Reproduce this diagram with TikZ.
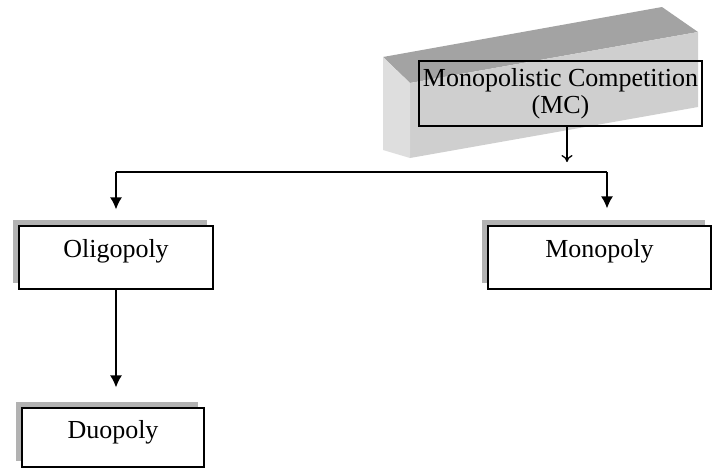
\documentclass[tikz,border=0pt]{standalone}
\usepackage{fontspec}
\setmainfont{Liberation Serif}
\usetikzlibrary{arrows.meta,positioning,calc,shadows}

\begin{document}
\begin{tikzpicture}[x=0.5pt,y=-0.5pt,line width=0.65pt,
  font=\fontsize{13}{13.5}\selectfont,
  market/.style={draw,fill=white,inner sep=0pt,
    drop shadow={shadow xshift=-3pt,shadow yshift=3pt,fill=black!30,opacity=1}},
  tip/.style={arrows=-{Latex[length=6pt,width=6pt]}}]
  \useasboundingbox (0,0) rectangle (712,468);

  % grey block behind the top box
  \fill[black!36] (383,57) -- (662,7) -- (698,32) -- (410,83) -- cycle;
  \fill[black!19] (410,83) -- (698,32) -- (698,107) -- (410,158) -- cycle;
  \fill[black!13] (383,57) -- (410,83) -- (410,158) -- (383,150) -- cycle;

  \node[draw,inner sep=0pt,minimum width=141.5pt,minimum height=32.5pt,align=center]
    (mc) at (560.5,93.5) {Monopolistic Competition\\(MC)};
  \node[market,minimum width=97pt,text height=15.5pt,text depth=16pt]
    (oligo) at (116,257.5) {Oligopoly};
  \node[market,minimum width=111.5pt,text height=15.5pt,text depth=16pt]
    (mono) at (599.5,257.5) {Monopoly};
  \node[market,minimum width=91pt,text height=15pt,text depth=14.5pt]
    (duo) at (113,437.5) {Duopoly};

  \coordinate (split) at (567,162);
  \coordinate (busl) at (116,172);
  \coordinate (busr) at (607,172);

  \draw[-{To[length=3.5pt,width=5.5pt]}] (mc.south -| split) -- (split);
  \draw (busl) -- (busr);
  \draw[tip,shorten >=8pt] (busl) -- (busl |- oligo.north);
  \draw[tip,shorten >=8.5pt] (busr) -- (busr |- mono.north);
  \draw[tip,shorten >=10pt] (oligo.south) -- (oligo.south |- duo.north);
\end{tikzpicture}
\end{document}
